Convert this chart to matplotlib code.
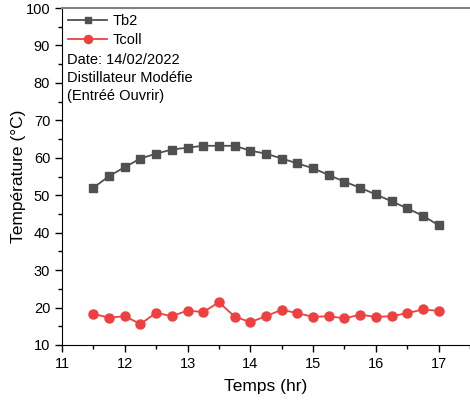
import matplotlib
matplotlib.use('Agg')
import matplotlib.pyplot as plt
from matplotlib.ticker import MultipleLocator
import numpy as np

plt.rcParams['font.family'] = ['Liberation Sans', 'DejaVu Sans']

# Données
temps = [11.5, 11.75, 12, 12.25, 12.5, 12.75, 13, 13.25, 13.5, 13.75, 14, 14.25,
         14.5, 14.75, 15, 15.25, 15.5, 15.75, 16, 16.25, 16.5, 16.75, 17]
tb2 = [52.0, 55.1, 57.5, 59.8, 61.1, 62.2, 62.7, 63.2, 63.2, 63.2, 61.9, 61.1,
       59.8, 58.5, 57.2, 55.4, 53.6, 52.0, 50.2, 48.4, 46.5, 44.5, 42.0]
tcoll = [18.3, 17.3, 17.7, 15.6, 18.6, 17.7, 19.2, 18.8, 21.4, 17.6, 16.1, 17.7,
         19.4, 18.5, 17.5, 17.7, 17.1, 18.1, 17.5, 17.7, 18.5, 19.5, 19.1]

fig = plt.figure(figsize=(4.7, 4.05), dpi=100)
ax = fig.add_axes([62 / 470, 1 - 345 / 405, 1 - 62 / 470, 337 / 405])

ax.plot(temps, tb2, color='#505050', marker='s', markersize=5.5, linewidth=1.3, label='Tb2')
ax.plot(temps, tcoll, color='#ef4040', marker='o', markersize=6.5, linewidth=1.3, label='Tcoll')

ax.set_xlim(11, 17.5)
ax.set_ylim(10, 100)
ax.xaxis.set_major_locator(MultipleLocator(1))
ax.xaxis.set_minor_locator(MultipleLocator(0.5))
ax.yaxis.set_major_locator(MultipleLocator(10))
ax.yaxis.set_minor_locator(MultipleLocator(5))
ax.tick_params(which='major', direction='out', length=5, width=1, labelsize=10.5)
ax.tick_params(which='minor', direction='out', length=3, width=1)

ax.spines['right'].set_visible(False)
ax.spines['top'].set_color('#808080')
ax.spines['top'].set_linewidth(1.5)

ax.set_xlabel('Temps (hr)', fontsize=12.5, labelpad=6)
ax.set_ylabel('Température (°C)', fontsize=12.5, labelpad=0)

leg = ax.legend(loc='upper left', frameon=False, fontsize=10.5, handlelength=2.7,
                borderaxespad=0.0, labelspacing=0.35, handletextpad=0.4,
                bbox_to_anchor=(0.0, 1.0), markerscale=0.9)

ax.text(0.012, 0.865, 'Date: 14/02/2022\nDistillateur Modéfie\n(Entréé Ouvrir)',
        transform=ax.transAxes, fontsize=10.5, va='top', ha='left', linespacing=1.35)

fig.savefig('out.png', dpi=100)
